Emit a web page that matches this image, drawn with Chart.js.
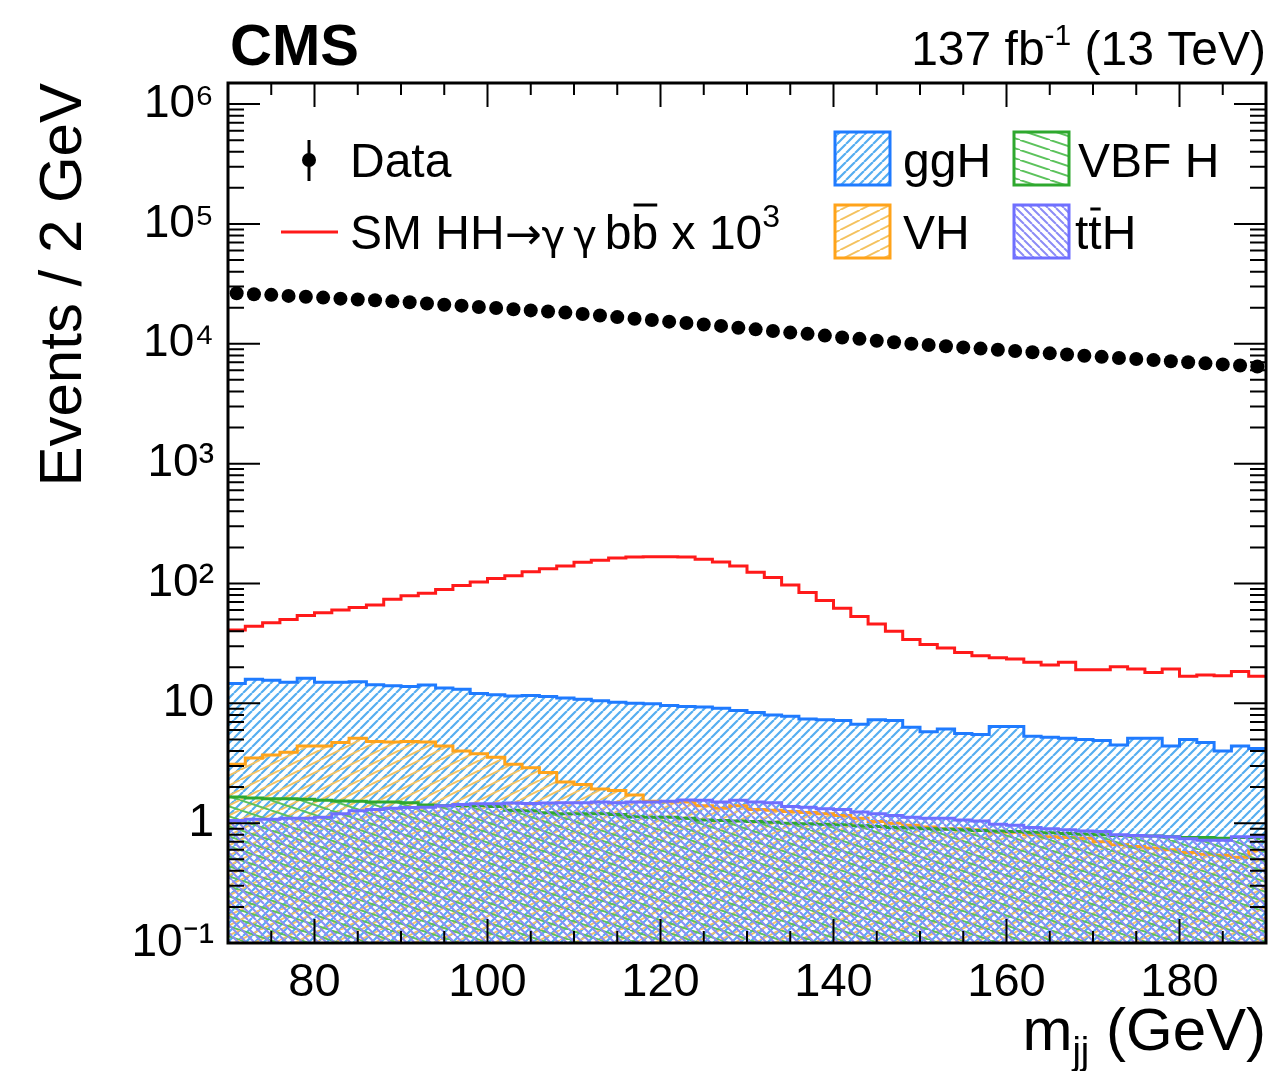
<!DOCTYPE html>
<html>
<head>
<meta charset="utf-8">
<title>CMS mjj distribution</title>
<script src="https://cdn.jsdelivr.net/npm/chart.js@4.4.0/dist/chart.umd.min.js"></script>
<style>
  html, body { margin: 0; padding: 0; background: #fff; }
  #plot { display: block; }
</style>
</head>
<body>
<canvas id="plot" width="1277" height="1071"></canvas>
<script>
// low edges of the 2 GeV m_jj bins, last bin ends at 190
const massBins = [70, 72, 74, 76, 78, 80, 82, 84, 86, 88, 90, 92, 94, 96, 98,
  100, 102, 104, 106, 108, 110, 112, 114, 116, 118, 120, 122, 124, 126, 128,
  130, 132, 134, 136, 138, 140, 142, 144, 146, 148, 150, 152, 154, 156, 158,
  160, 162, 164, 166, 168, 170, 172, 174, 176, 178, 180, 182, 184, 186, 188];
const massMax = 190;
const binWidth = 2;

// observed events per bin
const dataEvents = [26400, 25900, 25600, 25100, 24700, 24300, 23800, 23400, 23100, 22600,
  22200, 21700, 21200, 20800, 20300, 19900, 19400, 19000, 18600, 18200,
  17700, 17200, 16700, 16200, 15800, 15300, 14900, 14500, 14100, 13600,
  13200, 12800, 12400, 12100, 11700, 11300, 11000, 10600, 10300, 10000,
  9770, 9550, 9330, 9120, 8910, 8710, 8510, 8320, 8130, 7940,
  7780, 7620, 7460, 7310, 7160, 7010, 6870, 6730, 6590, 6460];

// SM HH -> gg bb signal, scaled by 10^3
const hhSignal = [41, 44, 47, 50, 54, 57, 60, 63, 66, 74,
  79, 83, 89, 96, 103, 110, 116, 125, 133, 140,
  150, 156, 163, 166, 167, 167, 166, 159, 151, 140,
  124, 112, 97, 84, 72, 62, 53, 46, 40, 34,
  31, 29, 26.6, 25, 24, 23.4, 22, 20.9, 22, 19.1,
  19.1, 20.2, 19.3, 18.1, 19.3, 16.8, 17.2, 17, 18.4, 16.8];

// single Higgs backgrounds
const ggH = [14.6, 15.9, 15.6, 15.0, 16.2, 15.0, 15.0, 15.1, 14.3, 14.0,
  13.8, 14.2, 13.4, 13.1, 12.1, 11.8, 11.5, 11.6, 11.4, 11.1,
  10.8, 10.5, 10.2, 10.0, 9.9, 9.6, 9.4, 9.3, 9.1, 8.7,
  8.4, 8.0, 7.8, 7.4, 7.3, 7.2, 6.7, 7.3, 7.2, 6.3,
  5.8, 6.1, 5.6, 5.5, 6.4, 6.4, 5.3, 5.2, 5.1, 5.0,
  4.9, 4.5, 5.1, 5.1, 4.4, 5.0, 4.7, 4.0, 4.4, 4.2];

const vbfH = [1.65, 1.62, 1.6, 1.6, 1.58, 1.55, 1.53, 1.52, 1.5, 1.5,
  1.48, 1.42, 1.4, 1.4, 1.4, 1.38, 1.28, 1.27, 1.22, 1.2,
  1.2, 1.2, 1.18, 1.13, 1.12, 1.12, 1.1, 1.06, 1.05, 1.04,
  1.03, 1.02, 1.0, 0.99, 0.98, 0.97, 0.95, 0.94, 0.92, 0.91,
  0.9, 0.89, 0.88, 0.87, 0.86, 0.85, 0.84, 0.83, 0.82, 0.81,
  0.8, 0.79, 0.78, 0.78, 0.77, 0.76, 0.76, 0.75, 0.76, 0.76];

const vH = [3.1, 3.5, 3.7, 3.9, 4.4, 4.4, 4.7, 5.1, 4.8, 4.75,
  4.8, 4.75, 4.4, 4.0, 3.8, 3.55, 3.1, 2.9, 2.65, 2.2,
  2.1, 1.93, 1.87, 1.72, 1.52, 1.5, 1.5, 1.4, 1.33, 1.4,
  1.3, 1.28, 1.25, 1.23, 1.2, 1.16, 1.1, 1.03, 1.0, 0.96,
  0.93, 0.9, 0.9, 0.88, 0.84, 0.84, 0.8, 0.77, 0.76, 0.75,
  0.7, 0.66, 0.64, 0.62, 0.6, 0.57, 0.55, 0.54, 0.52, 0.59];

const ttH = [1.05, 1.08, 1.08, 1.1, 1.1, 1.12, 1.2, 1.27, 1.3, 1.33,
  1.35, 1.36, 1.4, 1.43, 1.45, 1.45, 1.47, 1.46, 1.47, 1.48,
  1.48, 1.5, 1.48, 1.5, 1.5, 1.52, 1.56, 1.55, 1.5, 1.55,
  1.5, 1.48, 1.38, 1.36, 1.32, 1.3, 1.24, 1.2, 1.16, 1.12,
  1.1, 1.1, 1.06, 1.04, 0.98, 0.96, 0.92, 0.9, 0.88, 0.86,
  0.85, 0.8, 0.79, 0.78, 0.77, 0.74, 0.72, 0.72, 0.77, 0.77];

// axis ticks
const xTicks = [80, 100, 120, 140, 160, 180];
const yTicks = [0.1, 1, 10, 100, 1000, 10000, 100000, 1000000];
const yTickLabels = ['10\u207B\u00B9', '1', '10', '10\u00B2', '10\u00B3', '10\u2074', '10\u2075', '10\u2076'];

const FONT = "'Liberation Sans', Arial, Helvetica, sans-serif";
const SYMFONT = "'DejaVu Sans', sans-serif";

// hatch pattern tile, dir '/' or '\'
function hatch(color, w, h, dir, lw) {
  const c = document.createElement('canvas');
  c.width = w; c.height = h;
  const g = c.getContext('2d');
  g.strokeStyle = color;
  g.lineWidth = lw;
  g.beginPath();
  [-w, 0, w].forEach(dx => {
    if (dir === '/') { g.moveTo(dx, h); g.lineTo(dx + w, 0); }
    else { g.moveTo(dx, 0); g.lineTo(dx + w, h); }
  });
  g.stroke();
  return g.createPattern(c, 'repeat');
}

const styles = {
  ggH: { line: '#1f7bff', fill: hatch('#56aef0', 9, 9, '/', 2.2) },
  vbf: { line: '#2ea82e', fill: hatch('#5cc25c', 30, 10, '\\', 2) },
  vh:  { line: '#ffa31a', fill: hatch('#f4c260', 20, 10, '/', 2) },
  tth: { line: '#6f6fff', fill: hatch('#8c8cf6', 8, 8, '\\', 2) }
};

function histPoints(vals) {
  const pts = massBins.map((m, i) => ({ x: m, y: vals[i] }));
  pts.push({ x: massMax, y: vals[vals.length - 1] });
  return pts;
}

function histDataset(label, vals, st, order) {
  return {
    label: label,
    data: histPoints(vals),
    stepped: 'before',
    borderColor: st.line,
    borderWidth: 3,
    backgroundColor: st.fill,
    fill: 'start',
    pointRadius: 0,
    order: order
  };
}

function partFont(p) {
  return (p.bold ? 'bold ' : '') + p.size + 'px ' + (p.family || FONT);
}

// text with sub/superscripts and overlines
function drawParts(ctx, parts, x, y, align) {
  let total = 0;
  parts.forEach(p => {
    ctx.font = partFont(p);
    p.w = ctx.measureText(p.t).width;
    total += p.w;
  });
  let cx = align === 'right' ? x - total : x;
  ctx.textAlign = 'left';
  ctx.textBaseline = 'alphabetic';
  parts.forEach(p => {
    ctx.font = partFont(p);
    ctx.fillText(p.t, cx, y + (p.dy || 0));
    if (p.bar) {
      ctx.beginPath();
      ctx.lineWidth = 3;
      ctx.moveTo(cx + 2, y - p.bar);
      ctx.lineTo(cx + p.w - 1, y - p.bar);
      ctx.stroke();
    }
    cx += p.w;
  });
}

const framePlugin = {
  id: 'frameAndText',
  afterDraw(chart) {
    const ctx = chart.ctx;
    const a = chart.chartArea;
    const xs = chart.scales.x, ys = chart.scales.y;
    ctx.save();
    ctx.strokeStyle = '#000';
    ctx.fillStyle = '#000';

    // ticks inside the frame
    ctx.lineWidth = 2;
    ctx.beginPath();
    for (let v = 70; v <= 190; v += 5) {
      const px = xs.getPixelForValue(v);
      const len = v % 20 === 0 ? 24 : 12;
      ctx.moveTo(px, a.bottom); ctx.lineTo(px, a.bottom - len);
      ctx.moveTo(px, a.top); ctx.lineTo(px, a.top + len);
    }
    for (let d = -1; d <= 6; d++) {
      for (let k = 1; k <= 9; k++) {
        const v = k * Math.pow(10, d);
        if (v > ys.max) continue;
        const py = ys.getPixelForValue(v);
        const len = k === 1 ? 32 : 16;
        ctx.moveTo(a.left, py); ctx.lineTo(a.left + len, py);
        ctx.moveTo(a.right, py); ctx.lineTo(a.right - len, py);
      }
    }
    ctx.stroke();

    // frame
    ctx.lineWidth = 3;
    ctx.strokeRect(a.left, a.top, a.right - a.left, a.bottom - a.top);

    // header
    drawParts(ctx, [{ t: 'CMS', size: 58, bold: true }], 230, 65, 'left');
    drawParts(ctx, [
      { t: '137 fb', size: 48 },
      { t: '-1', size: 30, dy: -20 },
      { t: ' (13 TeV)', size: 48 }
    ], 1266, 65, 'right');

    // x axis title
    drawParts(ctx, [
      { t: 'm', size: 60 },
      { t: 'jj', size: 38, dy: 14 },
      { t: ' (GeV)', size: 60 }
    ], 1266, 1050, 'right');

    // legend: data
    ctx.lineWidth = 3;
    ctx.beginPath();
    ctx.moveTo(309, 140); ctx.lineTo(309, 181);
    ctx.stroke();
    ctx.beginPath();
    ctx.arc(309, 160, 7, 0, Math.PI * 2);
    ctx.fill();
    drawParts(ctx, [{ t: 'Data', size: 48 }], 350, 177, 'left');

    // legend: signal
    ctx.strokeStyle = '#ff1a1a';
    ctx.lineWidth = 3;
    ctx.beginPath();
    ctx.moveTo(281, 232); ctx.lineTo(338, 232);
    ctx.stroke();
    ctx.strokeStyle = '#000';
    drawParts(ctx, [
      { t: 'SM HH', size: 48 },
      { t: '\u2192', size: 44, family: SYMFONT },
      { t: '\u03B3\u2009\u03B3\u2009', size: 40, family: SYMFONT },
      { t: 'b', size: 48 },
      { t: 'b', size: 48, bar: 44 },
      { t: ' x 10', size: 48 },
      { t: '3', size: 32, dy: -22 }
    ], 350, 249, 'left');

    // legend: backgrounds
    const boxes = [
      { st: styles.ggH, x: 835, y: 132, parts: [{ t: 'ggH', size: 48 }], tx: 903, ty: 177 },
      { st: styles.vbf, x: 1014, y: 132, parts: [{ t: 'VBF H', size: 48 }], tx: 1078, ty: 177 },
      { st: styles.vh, x: 835, y: 205, parts: [{ t: 'VH', size: 48 }], tx: 903, ty: 249 },
      { st: styles.tth, x: 1014, y: 205, parts: [{ t: 't', size: 48 }, { t: 't', size: 48, bar: 40 }, { t: 'H', size: 48 }], tx: 1075, ty: 249 }
    ];
    boxes.forEach(b => {
      ctx.fillStyle = b.st.fill;
      ctx.fillRect(b.x, b.y, 55, 53);
      ctx.strokeStyle = b.st.line;
      ctx.lineWidth = 3;
      ctx.strokeRect(b.x, b.y, 55, 53);
      ctx.fillStyle = '#000';
      ctx.strokeStyle = '#000';
      drawParts(ctx, b.parts, b.tx, b.ty, 'left');
    });
    ctx.restore();
  }
};

const ctx = document.getElementById('plot').getContext('2d');
new Chart(ctx, {
  type: 'line',
  data: {
    datasets: [
      {
        label: 'Data',
        data: massBins.map((m, i) => ({ x: m + binWidth / 2, y: dataEvents[i] })),
        showLine: false,
        pointRadius: 7,
        pointBackgroundColor: '#000',
        pointBorderWidth: 0,
        order: 0
      },
      {
        label: 'SM HH x 10^3',
        data: histPoints(hhSignal),
        stepped: 'before',
        borderColor: '#ff1a1a',
        borderWidth: 3,
        fill: false,
        pointRadius: 0,
        order: 1
      },
      histDataset('ttH', ttH, styles.tth, 2),
      histDataset('VBF H', vbfH, styles.vbf, 3),
      histDataset('VH', vH, styles.vh, 4),
      histDataset('ggH', ggH, styles.ggH, 5)
    ]
  },
  options: {
    responsive: false,
    animation: false,
    devicePixelRatio: 1,
    layout: { padding: { top: 83, right: 11, left: 0, bottom: 0 } },
    plugins: { legend: { display: false }, tooltip: { enabled: false } },
    scales: {
      x: {
        type: 'linear',
        min: 70,
        max: massMax,
        afterBuildTicks: s => { s.ticks = xTicks.map(v => ({ value: v })); },
        afterFit: s => { s.height = 128; },
        grid: { display: false, drawTicks: false },
        border: { display: false },
        ticks: { font: { family: FONT, size: 47 }, color: '#000', padding: 12, maxRotation: 0, autoSkip: false }
      },
      y: {
        type: 'logarithmic',
        min: 0.1,
        max: 1.5e6,
        afterBuildTicks: s => { s.ticks = yTicks.map(v => ({ value: v })); },
        afterFit: s => { s.width = 228; },
        grid: { display: false, drawTicks: false },
        border: { display: false },
        ticks: {
          font: { family: FONT, size: 46 },
          color: '#000',
          padding: 14,
          autoSkip: false,
          callback: v => {
            const i = yTicks.findIndex(t => Math.abs(t - v) / t < 1e-6);
            return i >= 0 ? yTickLabels[i] : '';
          }
        },
        title: {
          display: true,
          text: 'Events / 2 GeV',
          align: 'end',
          color: '#000',
          font: { family: FONT, size: 60, lineHeight: 1.2 },
          padding: { top: 28, bottom: 0 }
        }
      }
    }
  },
  plugins: [framePlugin]
});
</script>
</body>
</html>
